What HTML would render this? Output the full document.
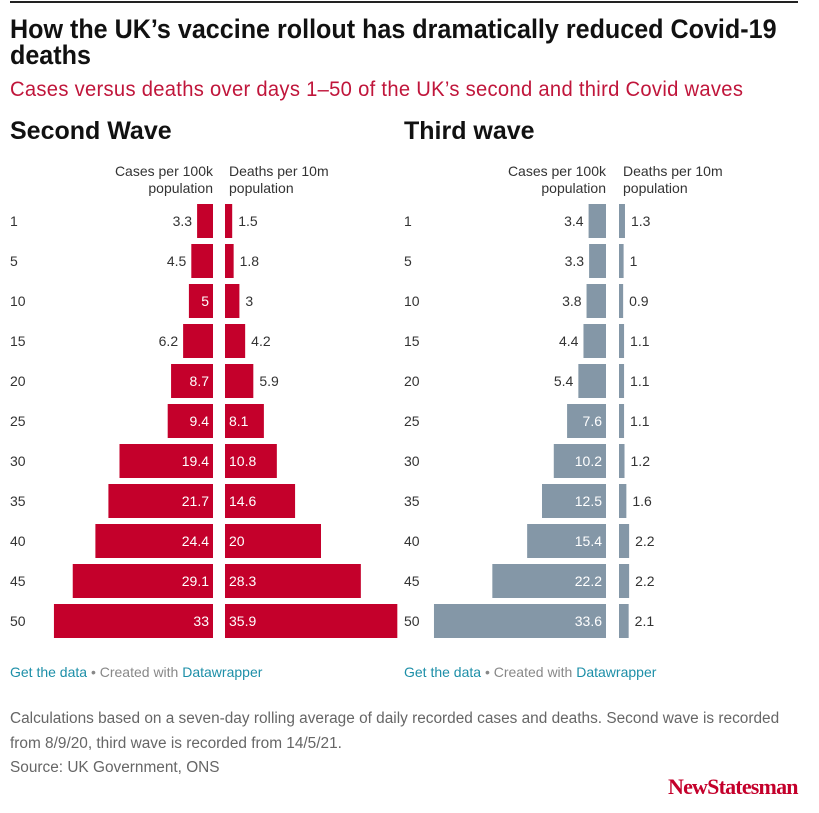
<!DOCTYPE html>
<html><head><meta charset="utf-8"><style>
body{margin:0;background:#fff;width:819px;height:813px;overflow:hidden;position:relative;font-family:"Liberation Sans",sans-serif}
.abs{position:absolute;white-space:nowrap}
.narrow{font-family:"Liberation Sans Narrow","Liberation Sans",sans-serif}
</style></head><body>
<div class="abs" style="left:10px;top:1px;width:788px;height:2px;background:#222"></div>
<div class="abs narrow" style="left:10px;top:16px;font-size:27px;font-weight:bold;line-height:26px;color:#111;transform-origin:0 0;transform:scaleX(0.93)">How the UK’s vaccine rollout has dramatically reduced Covid-19<br>deaths</div>
<div class="abs narrow" style="left:10px;top:78px;font-size:21px;color:#c0163b;letter-spacing:0.3px;transform-origin:0 0;transform:scaleX(0.962)">Cases versus deaths over days 1–50 of the UK’s second and third Covid waves</div>
<div class="abs" style="left:10px;top:117px;font-size:25px;font-weight:bold;color:#111">Second Wave</div>
<div class="abs" style="left:404px;top:117px;font-size:25px;font-weight:bold;color:#111">Third wave</div>
<svg id="chart" class="abs" style="left:0;top:0" width="819" height="700"></svg>
<div class="abs narrow" style="left:10px;top:664px;font-size:14px;color:#888"><span style="color:#1d8fa8">Get the data</span> • Created with <span style="color:#1d8fa8">Datawrapper</span></div>
<div class="abs narrow" style="left:404px;top:664px;font-size:14px;color:#888"><span style="color:#1d8fa8">Get the data</span> • Created with <span style="color:#1d8fa8">Datawrapper</span></div>
<div class="abs narrow" style="left:10px;top:707px;font-size:15.4px;line-height:24.5px;color:#666">Calculations based on a seven-day rolling average of daily recorded cases and deaths. Second wave is recorded<br>from 8/9/20, third wave is recorded from 14/5/21.<br>Source: UK Government, ONS</div>
<div class="abs" style="left:668px;top:774px;font-family:'Liberation Serif',serif;font-size:22px;font-weight:bold;color:#c4002b;letter-spacing:-0.8px">NewStatesman</div>
<script>
const days=[1,5,10,15,20,25,30,35,40,45,50];
const secondCases=[3.3,4.5,5,6.2,8.7,9.4,19.4,21.7,24.4,29.1,33];
const secondDeaths=[1.5,1.8,3,4.2,5.9,8.1,10.8,14.6,20,28.3,35.9];
const thirdCases=[3.4,3.3,3.8,4.4,5.4,7.6,10.2,12.5,15.4,22.2,33.6];
const thirdDeaths=[1.3,1,0.9,1.1,1.1,1.1,1.2,1.6,2.2,2.2,2.1];
const svg=document.getElementById('chart');
const NS='http://www.w3.org/2000/svg';
function el(t,a){const e=document.createElementNS(NS,t);for(const k in a)e.setAttribute(k,a[k]);svg.appendChild(e);return e;}
const y=i=>204+i*40;
const BH=34;
function panel(x0,caseAxisR,caseScale,deathX,deathScale,cases,deaths,color,name){
  const hdr1=el('text',{x:caseAxisR,y:176,'text-anchor':'end','font-size':14,fill:'#333'});hdr1.textContent='Cases per 100k';
  
  const hdr2=el('text',{x:caseAxisR,y:193,'text-anchor':'end','font-size':14,fill:'#333'});hdr2.textContent='population';
  
  const hdr3=el('text',{x:deathX+4,y:176,'font-size':14,fill:'#333'});hdr3.textContent='Deaths per 10m';
  
  const hdr4=el('text',{x:deathX+4,y:193,'font-size':14,fill:'#333'});hdr4.textContent='population';
  
  days.forEach((d,i)=>{
    const cy=y(i)+BH/2+5;
    const lab=el('text',{x:x0,y:cy,'font-size':14,fill:'#333'});lab.textContent=d;
    
    const cw=cases[i]*caseScale;
    const r=el('rect',{x:caseAxisR-cw,y:y(i),width:cw,height:BH,fill:color});
    
    const cin=cw>35||(cw>=24&&String(cases[i]).length<2);
    const ct=el('text',{x:cin?caseAxisR-4:caseAxisR-cw-5,y:cy,'text-anchor':'end','font-size':14,fill:cin?'#fff':'#333'});ct.textContent=cases[i];
    
    const dw=deaths[i]*deathScale;
    const r2=el('rect',{x:deathX,y:y(i),width:dw,height:BH,fill:color});
    
    const din=dw>34;
    const dt=el('text',{x:din?deathX+4:deathX+dw+6,y:cy,'font-size':14,fill:din?'#fff':'#333'});dt.textContent=deaths[i];
    
  });
}
panel(10,213,4.82,225,4.8,secondCases,secondDeaths,'#c4002b','second-wave');
panel(404,606,5.12,619,4.6,thirdCases,thirdDeaths,'#8497a7','third-wave');
</script>
</body></html>
